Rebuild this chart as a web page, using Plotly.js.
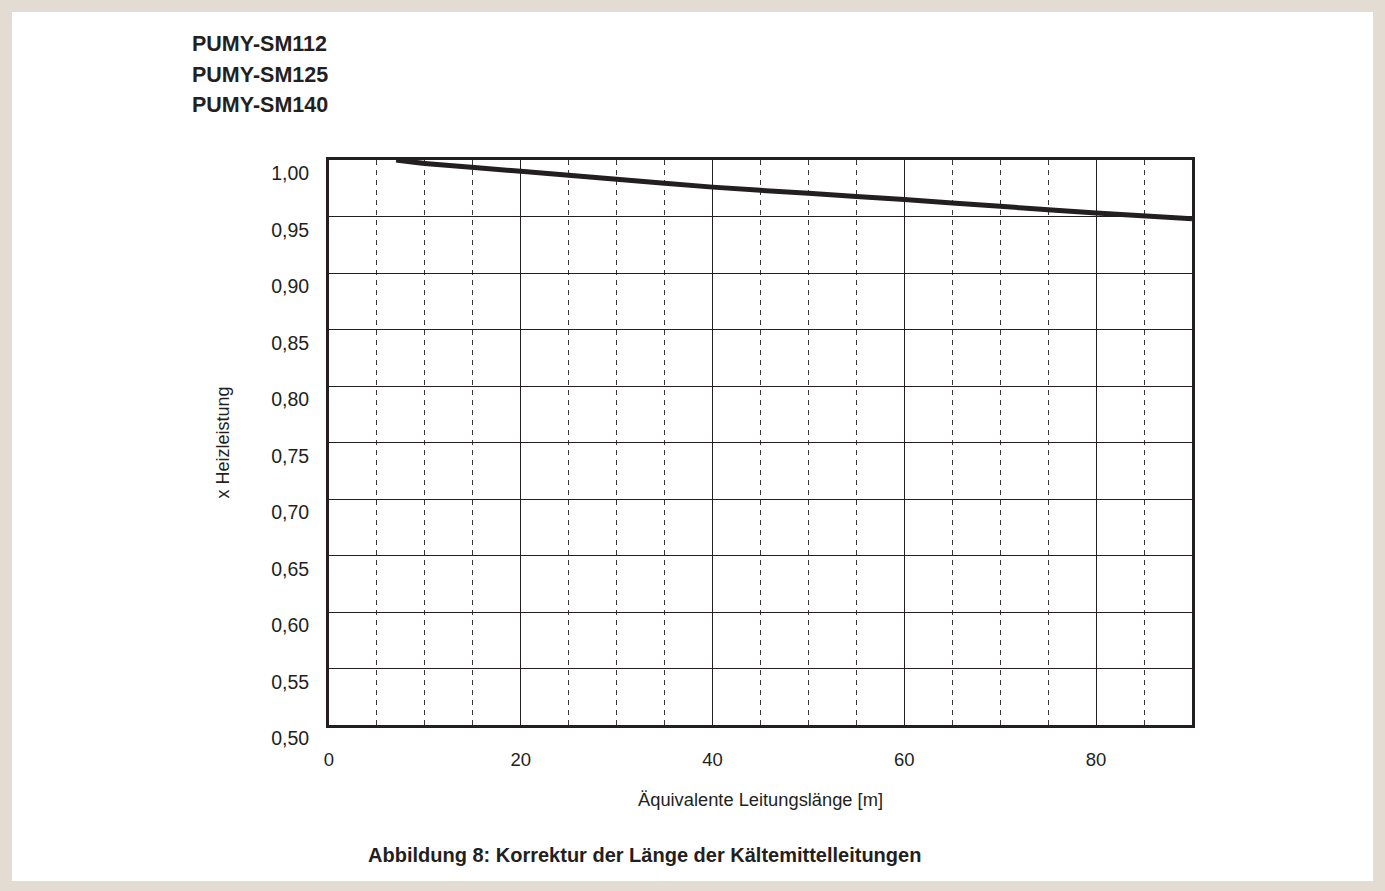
<!DOCTYPE html>
<html>
<head>
<meta charset="utf-8">
<script src="https://cdn.plot.ly/plotly-3.0.1.min.js"></script>
<style>
html,body{margin:0;padding:0;background:#e2dcd3;width:1385px;height:891px;overflow:hidden;}
#chart{position:absolute;left:12px;top:12px;width:1361px;height:869px;background:#fff;}
</style>
</head>
<body>
<div id="chart"></div>
<script>
// Data
const pipeLength = [7, 10, 20, 30, 40, 50, 60, 70, 80, 90];
const heatingFactor = [1.000, 0.997, 0.990, 0.983, 0.976, 0.9705, 0.965, 0.959, 0.953, 0.948];
const modelNames = ["PUMY-SM112", "PUMY-SM125", "PUMY-SM140"];
const xTitle = "Äquivalente Leitungslänge [m]";
const yTitle = "x Heizleistung";
const caption = "Abbildung 8: Korrektur der Länge der Kältemittelleitungen";

const ink = "#231f20";
const fontFam = "'Liberation Sans', Arial, Helvetica, sans-serif";

const trace = {
  x: pipeLength,
  y: heatingFactor,
  type: "scatter",
  mode: "lines",
  line: {color: ink, width: 5, shape: "spline", smoothing: 0.6},
  hoverinfo: "skip",
  showlegend: false
};

const plotH = 565, plotW = 863, mT = 148, mL = 317;
function py(divY) { return 1 - (divY - mT) / plotH; }
function px(divX) { return (divX - mL) / plotW; }

const titleCenters = [32, 63, 93];
const annotations = modelNames.map((name, i) => ({
  text: "<b>" + name + "</b>",
  xref: "paper", yref: "paper",
  x: px(178), y: py(titleCenters[i]),
  xanchor: "left", yanchor: "middle", align: "left",
  showarrow: false,
  font: {family: fontFam, size: 21.5, color: ink}
}));
annotations.push({
  text: "<b>" + caption + "</b>",
  xref: "paper", yref: "paper",
  x: px(354), y: py(843),
  xanchor: "left", yanchor: "middle",
  showarrow: false,
  font: {family: fontFam, size: 20, color: ink}
});

const layout = {
  width: 1361,
  height: 869,
  margin: {l: mL, r: 1361 - mL - plotW, t: mT, b: 869 - mT - plotH},
  paper_bgcolor: "#ffffff",
  plot_bgcolor: "#ffffff",
  separators: ",.",
  font: {family: fontFam, color: ink, size: 18.5},
  showlegend: false,
  xaxis: {
    range: [0, 90],
    tickmode: "linear", tick0: 0, dtick: 20,
    showgrid: true, gridcolor: ink, gridwidth: 1,
    minor: {dtick: 5, tick0: 0, showgrid: true, gridcolor: "#3a3637", gridwidth: 1, griddash: "5px,5px"},
    showline: true, linecolor: ink, linewidth: 3, mirror: true,
    zeroline: false,
    ticks: "",
    ticklabelstandoff: 16,
    tickfont: {size: 18.5, color: ink},
    title: {text: xTitle, font: {size: 18.3, color: ink}, standoff: 24}
  },
  yaxis: {
    range: [0.5, 1.0],
    tickmode: "linear", tick0: 0.5, dtick: 0.05,
    tickformat: ".2f",
    showgrid: true, gridcolor: ink, gridwidth: 1,
    showline: true, linecolor: ink, linewidth: 3, mirror: true,
    zeroline: false,
    ticks: "",
    ticklabelposition: "outside bottom",
    ticklabelstandoff: 13,
    tickfont: {size: 19.5, color: ink},
    title: {text: yTitle, font: {size: 18, color: ink}, standoff: 37}
  },
  annotations: annotations
};

Plotly.newPlot("chart", [trace], layout, {displayModeBar: false, staticPlot: true});
</script>
</body>
</html>
